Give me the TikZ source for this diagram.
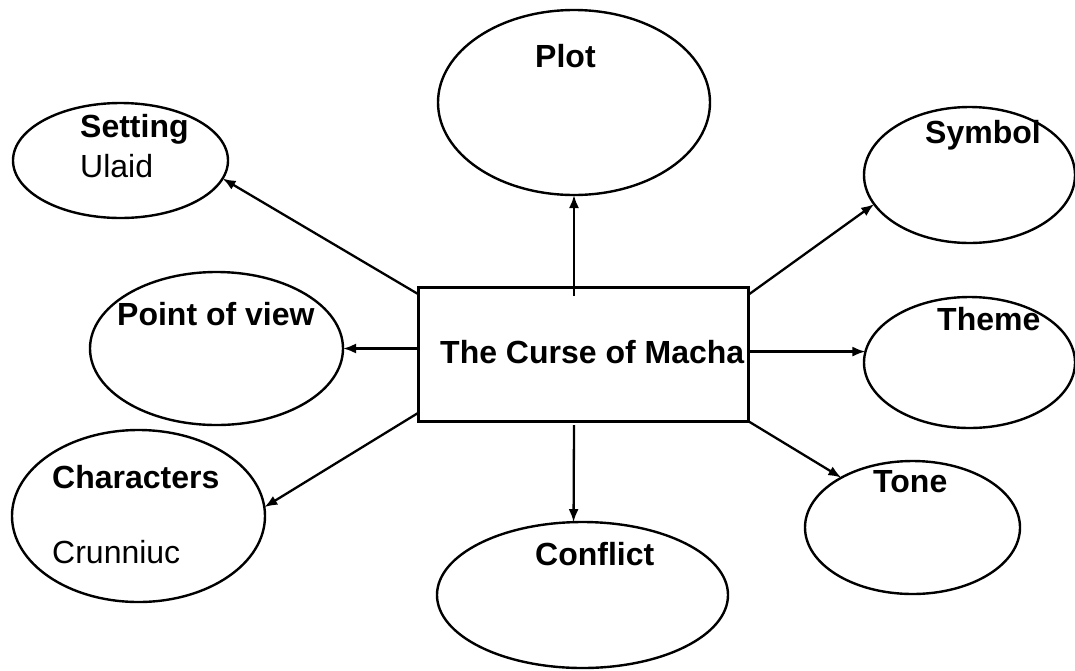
\documentclass[tikz,border=0pt]{standalone}
\usepackage{fontspec}
\setmainfont{Liberation Sans}
\usetikzlibrary{shapes.geometric,arrows.meta}

\tikzset{
  topic/.style={draw, ellipse, line width=2.4pt, inner sep=0pt, outer sep=0pt},
  hub/.style={draw, rectangle, line width=3pt, inner sep=0pt, outer sep=0pt,
              minimum width=330pt, minimum height=134pt},
  head/.style={anchor=base west, inner sep=0pt, font=\fontsize{32}{38}\selectfont\bfseries},
  entry/.style={anchor=base west, inner sep=0pt, font=\fontsize{32}{38}\selectfont},
  link/.style={line width=2.3pt, -{Latex[length=13pt,width=10pt]}}
}

\begin{document}
\begin{tikzpicture}[x=1pt,y=-1pt]
\useasboundingbox (0,0) rectangle (1075,670);

% central box
\node[hub] (box) at (583,354) {};
\node[head] (t-box) at (440,363) {The Curse of Macha};

% surrounding ellipses
\node[topic, minimum width=272pt, minimum height=185pt] (plot)    at (574,102.5) {};
\node[topic, minimum width=215pt, minimum height=115pt] (setting) at (120.5,160.5) {};
\node[topic, minimum width=211pt, minimum height=136pt] (symbol)  at (969.5,175) {};
\node[topic, minimum width=253pt, minimum height=153pt] (pov)     at (216.5,348.5) {};
\node[topic, minimum width=211pt, minimum height=131pt] (theme)   at (969.5,362.5) {};
\node[topic, minimum width=253pt, minimum height=172pt] (chars)   at (138.5,516) {};
\node[topic, minimum width=215pt, minimum height=133pt] (tone)    at (912.5,527.5) {};
\node[topic, minimum width=291pt, minimum height=146pt] (conflict) at (582.5,595) {};

% labels
\node[head]  (t-plot)    at (535,67)  {Plot};
\node[head]  (t-setting) at (80,137)  {Setting};
\node[entry] (t-ulaid)   at (80,177)  {Ulaid};
\node[head]  (t-symbol)  at (925,143) {Symbol};
\node[head]  (t-pov)     at (117,325) {Point of view};
\node[head]  (t-theme)   at (937,330) {Theme};
\node[head]  (t-chars)   at (52,488)  {Characters};
\node[entry] (t-crun)    at (52,563)  {Crunniuc};
\node[head]  (t-tone)    at (873,492) {Tone};
\node[head]  (t-conf)    at (535,565) {Conflict};

% connectors
\draw[link] ([yshift=-9pt]box.north -| plot.south) -- (plot.south);
\draw[link] ([yshift=-7pt]box.north west) -- (setting.-10.4);
\draw[link] ([yshift=-8pt]box.north east) -- (symbol.197.7);
\draw[link] (box.west |- pov.east) -- (pov.east);
\draw[link] (box.east |- theme.174.3) -- (theme.174.3);
\draw[link] ([yshift=8pt]box.south west) -- (chars.4);
\draw[link] (box.south east) -- (tone.145.1);
\draw[link] ([yshift=-4pt]box.south -| plot.south) -- (conflict.97.4);
\end{tikzpicture}
\end{document}
